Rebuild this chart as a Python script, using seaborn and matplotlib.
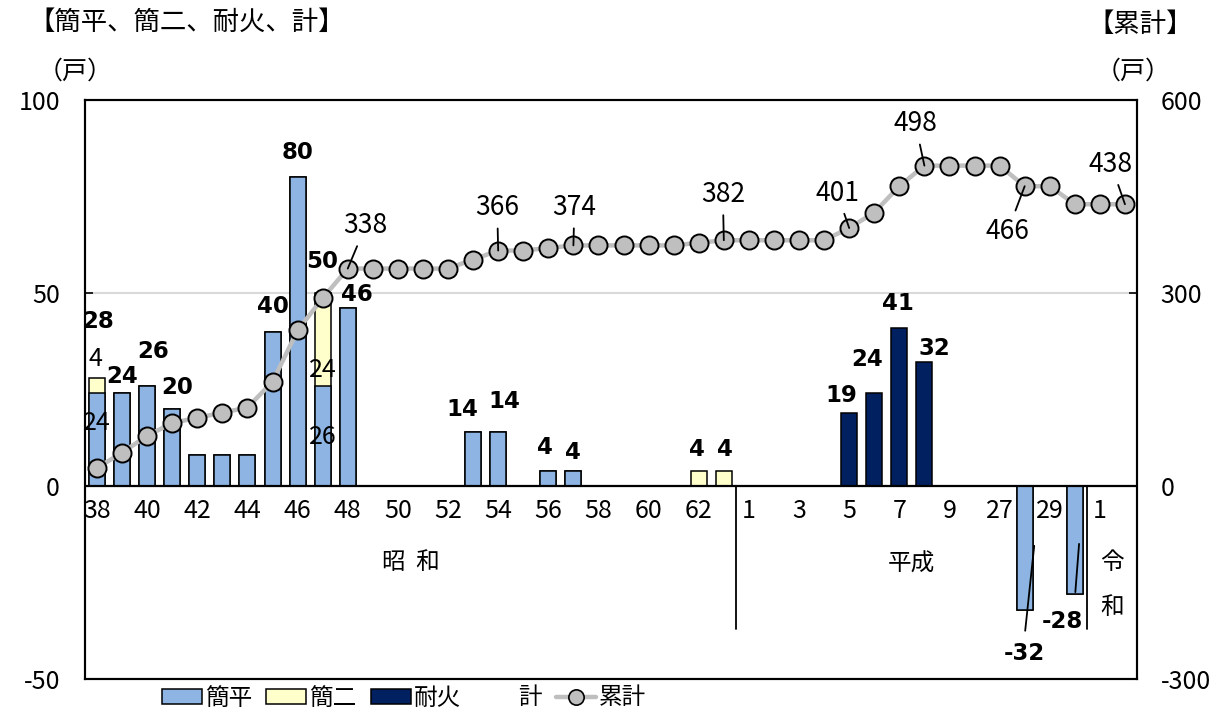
import matplotlib.pyplot as plt
import numpy as np
import pandas as pd
import seaborn as sns
from matplotlib.lines import Line2D
from matplotlib.patches import Patch

# 年度（昭和38〜63、平成1〜9、平成26〜30、令和1〜2）
years = ["S38", "S39", "S40", "S41", "S42", "S43", "S44", "S45", "S46", "S47",
         "S48", "S49", "S50", "S51", "S52", "S53", "S54", "S55", "S56", "S57",
         "S58", "S59", "S60", "S61", "S62", "S63",
         "H1", "H2", "H3", "H4", "H5", "H6", "H7", "H8", "H9",
         "H26", "H27", "H28", "H29", "H30", "R1", "R2"]
tick_labels = ["38", "", "40", "", "42", "", "44", "", "46", "", "48", "", "50", "",
               "52", "", "54", "", "56", "", "58", "", "60", "", "62", "",
               "1", "", "3", "", "5", "", "7", "", "9",
               "", "27", "", "29", "", "1", ""]

# 簡平
kanpei = [24, 24, 26, 20, 8, 8, 8, 40, 80, 26, 46, 0, 0, 0, 0, 14, 14, 0, 4, 4,
          0, 0, 0, 0, 0, 0,
          0, 0, 0, 0, 0, 0, 0, 0, 0,
          0, 0, -32, 0, -28, 0, 0]
# 簡二
kanni = [4, 0, 0, 0, 0, 0, 0, 0, 0, 24, 0, 0, 0, 0, 0, 0, 0, 0, 0, 0,
         0, 0, 0, 0, 4, 4,
         0, 0, 0, 0, 0, 0, 0, 0, 0,
         0, 0, 0, 0, 0, 0, 0]
# 耐火
taika = [0, 0, 0, 0, 0, 0, 0, 0, 0, 0, 0, 0, 0, 0, 0, 0, 0, 0, 0, 0,
         0, 0, 0, 0, 0, 0,
         0, 0, 0, 0, 19, 24, 41, 32, 0,
         0, 0, 0, 0, 0, 0, 0]
# 累計
cumulative = [28, 52, 78, 98, 106, 114, 122, 162, 242, 292, 338, 338, 338, 338,
              338, 352, 366, 366, 370, 374, 374, 374, 374, 374, 378, 382,
              382, 382, 382, 382, 401, 425, 466, 498, 498,
              498, 498, 466, 466, 438, 438, 438]

# label placement (pixel offsets from the bar top / point)
total_label_offsets = {
    "S38": (1, 56), "S39": (0, 17), "S40": (6, 34), "S41": (5, 21),
    "S45": (0, 25), "S46": (0, 25), "S47": (0, 31), "S48": (9, 14),
    "S53": (-11, 22), "S54": (6, 30), "S56": (-3, 23), "S57": (0, 18),
    "S62": (-2, 21), "S63": (1, 21),
    "H5": (-8, 17), "H6": (-7, 34), "H7": (-1, 24), "H8": (10, 14),
}
part_labels = [("S38", "kanni", (-2, 27)), ("S38", "kanpei", (0, 17)),
               ("S47", "kanni", (0, -31)), ("S47", "kanpei", (0, -1))]
cum_label_offsets = {
    "S48": (18, 43), "S54": (-1, 43), "S57": (1, 38), "S63": (-1, 46),
    "H5": (-12, 35), "H8": (-9, 42), "H28": (-17, -45), "R2": (-14, 40),
}

c_kanpei = "#8DB4E2"
c_kanni = "#FFFFCC"
c_taika = "#002060"
c_cum = "#BFBFBF"

df = pd.DataFrame({"year": years, "kanpei": kanpei, "kanni": kanni,
                   "taika": taika, "cumulative": cumulative})
df["kan_top"] = df["kanpei"] + df["kanni"]
df["total"] = df["kanpei"] + df["kanni"] + df["taika"]

sns.set_style("ticks")
plt.rcParams["font.family"] = ["Noto Sans CJK JP", "DejaVu Sans"]
plt.rcParams["axes.unicode_minus"] = False
for key in ["text.color", "axes.labelcolor", "xtick.color", "ytick.color"]:
    plt.rcParams[key] = "black"

fig = plt.figure(figsize=(12.17, 7.17), dpi=100)
ax = fig.add_axes([85 / 1217, 1 - 679 / 717, 1052 / 1217, 579 / 717])

bar_kw = dict(x="year", order=years, width=0.64, saturation=1, errorbar=None,
              edgecolor="black", linewidth=1.1, ax=ax)
sns.barplot(data=df, y="kan_top", color=c_kanni, **bar_kw)
sns.barplot(data=df, y="kanpei", color=c_kanpei, **bar_kw)
sns.barplot(data=df, y="taika", color=c_taika, **bar_kw)

ax.set_ylim(-50, 100)
ax.set_yticks([-50, 0, 50, 100])
ax.set_xlabel("")
ax.set_ylabel("")
ax.set_xticks([])
ax.yaxis.grid(True, color="#D9D9D9", linewidth=1.5)
ax.set_axisbelow(True)
ax.axhline(0, color="black", linewidth=1.6, zorder=3)
ax.tick_params(axis="y", direction="in", length=6, width=1.2, pad=18,
               labelsize=18)
for sp in ax.spines.values():
    sp.set_linewidth(1.5)
    sp.set_color("black")

pos = {y: i for i, y in enumerate(years)}

# x tick labels inside the box
for i, lbl in enumerate(tick_labels):
    if lbl:
        ax.text(i, -6.6, lbl, ha="center", va="center", fontsize=18)

# era labels and dividers
ax.plot([25.5, 25.5], [0, -37], color="black", linewidth=1.3)
ax.plot([39.5, 39.5], [0, -37], color="black", linewidth=1.3)
ax.text(12.5, -19.8, "昭  和", ha="center", va="center", fontsize=17)
ax.text(32.5, -20.2, "平成", ha="center", va="center", fontsize=17)
ax.text(40.5, -19.8, "令", ha="center", va="center", fontsize=17)
ax.text(40.5, -31.5, "和", ha="center", va="center", fontsize=17)

# total labels (bold)
bold_kw = dict(ha="center", va="center", fontsize=16.5, fontweight="bold",
               family="DejaVu Sans", color="black")
for yr, (dx, dy) in total_label_offsets.items():
    v = df.loc[pos[yr], "total"]
    ax.annotate(f"{v:d}", xy=(pos[yr], v), xytext=(dx, dy),
                textcoords="offset pixels", **bold_kw)

# negative bars: labels below with leader lines
ax.plot([pos["H28"] + 0.38, pos["H28"] + 0.02], [-15.5, -37.5], color="black", linewidth=1.3)
ax.plot([pos["H30"] + 0.17, pos["H30"] + 0.02], [-15.0, -27.5], color="black", linewidth=1.3)
ax.text(pos["H28"], -43.5, f"{df.loc[pos['H28'], 'total']:d}", **bold_kw)
ax.text(pos["H30"] - 0.5, -35.2, f"{df.loc[pos['H30'], 'total']:d}", **bold_kw)

# component labels of stacked bars
for yr, col, (dx, dy) in part_labels:
    i = pos[yr]
    if col == "kanni":
        lo = df.loc[i, "kanpei"]
        v = df.loc[i, "kanni"]
    else:
        lo = 0
        v = df.loc[i, "kanpei"]
    ax.annotate(f"{v:d}", xy=(i, lo + v / 2), xytext=(dx, dy),
                textcoords="offset pixels", ha="center", va="center", fontsize=18)

# cumulative line on right axis
ax2 = ax.twinx()
sns.lineplot(data=df, x="year", y="cumulative", ax=ax2, color=c_cum,
             linewidth=3.2, marker="o", markersize=13,
             markerfacecolor=c_cum, markeredgecolor="black",
             markeredgewidth=1.4, sort=False)
ax2.set_ylim(-300, 600)
ax2.set_yticks([-300, 0, 300, 600])
ax2.set_xlabel("")
ax2.set_ylabel("")
ax2.tick_params(axis="y", direction="in", length=6, width=1.2, pad=17,
                labelsize=18)
ax2.tick_params(axis="x", length=0, labelbottom=False)
for sp in ax2.spines.values():
    sp.set_linewidth(1.5)
    sp.set_color("black")

for yr, (dx, dy) in cum_label_offsets.items():
    v = df.loc[pos[yr], "cumulative"]
    ax2.annotate(f"{v:d}", xy=(pos[yr], v), xytext=(dx, dy),
                 textcoords="offset pixels", ha="center", va="center",
                 fontsize=19,
                 arrowprops=dict(arrowstyle="-", color="black", lw=1.3,
                                 shrinkA=3, shrinkB=0))

ax.set_xlim(-0.48, 41.48)
ax2.set_xlim(-0.48, 41.48)

# headers
fig.text(28 / 1217, 1 - 22 / 717, "【簡平、簡二、耐火、計】", ha="left", va="center", fontsize=19)
fig.text(75 / 1217, 1 - 72 / 717, "（戸）", ha="center", va="center", fontsize=18)
fig.text(1140 / 1217, 1 - 24 / 717, "【累計】", ha="center", va="center", fontsize=19)
fig.text(1133 / 1217, 1 - 72 / 717, "（戸）", ha="center", va="center", fontsize=18)

handles = [
    Patch(facecolor=c_kanpei, edgecolor="black", linewidth=1.1),
    Patch(facecolor=c_kanni, edgecolor="black", linewidth=1.1),
    Patch(facecolor=c_taika, edgecolor="black", linewidth=1.1),
    Line2D([], [], color="none"),
    Line2D([], [], color=c_cum, linewidth=3.2, marker="o", markersize=11,
           markerfacecolor=c_cum, markeredgecolor="black", markeredgewidth=1.2),
]
fig.legend(handles, ["簡平", "簡二", "耐火", "計", "累計"], loc="center",
           bbox_to_anchor=(404 / 1217, 1 - 698 / 717), ncol=5, frameon=False,
           fontsize=17, handlelength=1.7, handleheight=0.6, handletextpad=0.12,
           columnspacing=0.6)

fig.savefig("out.png", dpi=100)
